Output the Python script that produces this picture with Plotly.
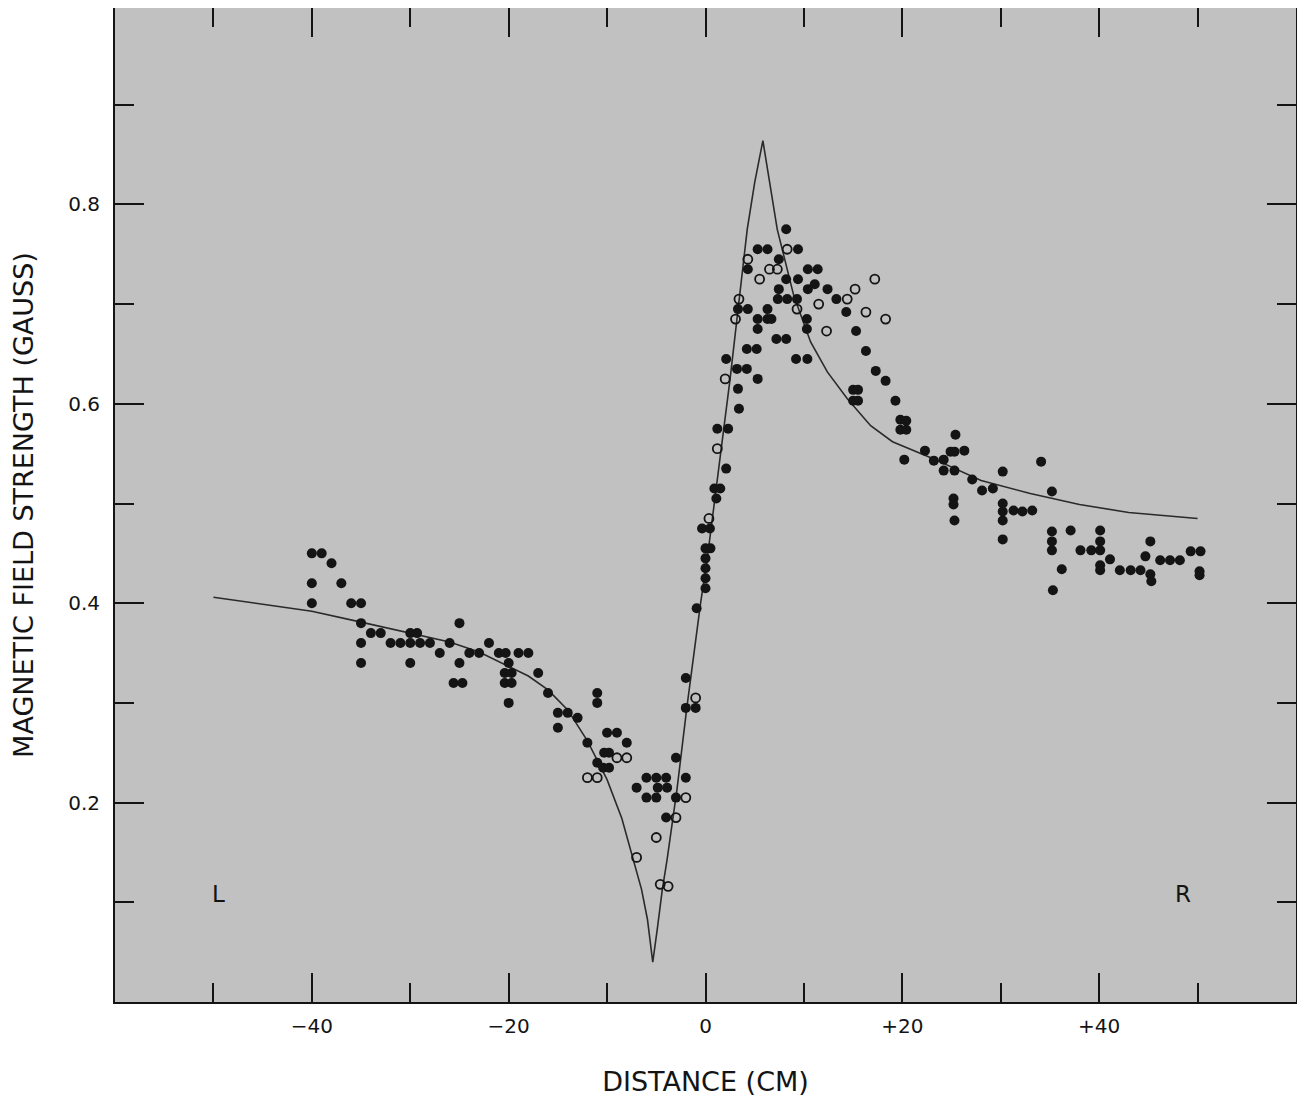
import plotly.graph_objects as go

# ---- data ----
filled_x = [-40, -39, -38, -40, -37, -40, -36, -35, -35, -35, -35, -34, -33, -32, -31, -30, -29.3, -30, -29, -30,
            -28, -27, -26, -25, -25, -25.6, -24.7, -24, -23, -22, -21, -20.3, -20, -20.4, -19.7, -20.4, -19.7, -20,
            -19, -18, -17, -16, -15, -15, -14, -13,
            -11, -11, -12, -10, -9, -8, -10.3, -9.8, -11, -10.4, -9.8, -6, -5, -4, -2, -7, -4.85, -3.9, -6, -5, -3,
            -3, -4, -2, -2, -1, -0.9, 0, 0, 0, 0, 0, 0.5, -0.35, 0.45, 1.1, 0.9, 1.5, 2.1, 1.2, 2.3, 3.4, 3.3, 5.3,
            2.1, 3.2, 4.2, 4.2, 5.2,
            8.2, 5.3, 6.3, 9.4, 7.45, 4.3, 10.4, 11.4, 8.2, 9.4, 7.45, 10.4, 11.1, 12.4, 7.35, 8.3, 9.3, 13.3, 3.3,
            4.3, 6.3, 14.3, 5.3, 6.3, 6.7, 10.3, 5.3, 10.3, 15.3, 7.2, 8.2, 16.3, 9.2, 10.35, 17.3, 18.3, 15.0,
            15.5, 15.0, 15.5, 19.3, 19.8, 20.4, 19.8, 20.4,
            22.3, 20.2, 23.2, 24.2, 24.2, 25.3, 25.4, 24.9, 25.3, 26.3, 25.2, 25.2, 25.3, 27.1, 28.1, 29.2, 30.2,
            30.2, 30.2, 30.2, 30.2, 31.3, 32.2, 33.2, 34.1, 35.2, 35.2, 35.2, 35.2, 35.3, 36.2, 37.1, 38.1, 39.2,
            40.1, 40.1, 40.1, 40.1, 40.1, 41.1, 42.1, 43.2, 44.2, 45.2, 44.7, 45.2, 45.3, 46.2, 47.2, 48.2, 49.3,
            50.3, 50.2, 50.2]
filled_y = [0.45, 0.45, 0.44, 0.42, 0.42, 0.40, 0.40, 0.40, 0.38, 0.36, 0.34, 0.37, 0.37, 0.36, 0.36, 0.37, 0.37,
            0.36, 0.36, 0.34, 0.36, 0.35, 0.36, 0.38, 0.34, 0.32, 0.32, 0.35, 0.35, 0.36, 0.35, 0.35, 0.34, 0.33,
            0.33, 0.32, 0.32, 0.30, 0.35, 0.35, 0.33, 0.31, 0.29, 0.275, 0.29, 0.285,
            0.31, 0.30, 0.26, 0.27, 0.27, 0.26, 0.25, 0.25, 0.24, 0.235, 0.235, 0.225, 0.225, 0.225, 0.225, 0.215,
            0.215, 0.215, 0.205, 0.205, 0.205, 0.245, 0.185, 0.325, 0.295, 0.295, 0.395, 0.415, 0.425, 0.435,
            0.445, 0.455, 0.455, 0.475, 0.475, 0.505, 0.515, 0.515, 0.535, 0.575, 0.575, 0.595, 0.615, 0.625,
            0.645, 0.635, 0.635, 0.655, 0.655,
            0.775, 0.755, 0.755, 0.755, 0.745, 0.735, 0.735, 0.735, 0.725, 0.725, 0.715, 0.715, 0.72, 0.715,
            0.705, 0.705, 0.705, 0.705, 0.695, 0.695, 0.695, 0.692, 0.685, 0.685, 0.685, 0.685, 0.675, 0.675,
            0.673, 0.665, 0.665, 0.653, 0.645, 0.645, 0.633, 0.623, 0.614, 0.614, 0.603, 0.603, 0.603, 0.584,
            0.583, 0.574, 0.574,
            0.553, 0.544, 0.543, 0.544, 0.533, 0.533, 0.569, 0.552, 0.552, 0.553, 0.505, 0.499, 0.483, 0.524,
            0.513, 0.515, 0.532, 0.500, 0.492, 0.483, 0.464, 0.493, 0.492, 0.493, 0.542, 0.512, 0.472, 0.462,
            0.453, 0.413, 0.434, 0.473, 0.453, 0.453, 0.473, 0.462, 0.453, 0.438, 0.433, 0.444, 0.433, 0.433,
            0.433, 0.462, 0.447, 0.429, 0.422, 0.443, 0.443, 0.443, 0.452, 0.452, 0.432, 0.428]

open_x = [-12, -11, -9, -8, -7, -5, -4.6, -3.8, -3, -2, -1, 0.35, 1.2, 2.0, 4.3, 6.5, 7.3, 5.5, 17.2, 15.2,
          3.4, 14.4, 11.5, 9.3, 16.3, 3.05, 18.3, 12.3, 8.3]
open_y = [0.225, 0.225, 0.245, 0.245, 0.145, 0.165, 0.118, 0.116, 0.185, 0.205, 0.305, 0.485, 0.555, 0.625,
          0.745, 0.735, 0.735, 0.725, 0.725, 0.715, 0.705, 0.705, 0.70, 0.695, 0.692, 0.685, 0.685, 0.673, 0.755]

curve_x = [-50, -45, -40, -35, -30, -26, -23, -20, -18, -16, -14, -12, -10, -8.5, -7.3, -6.5, -5.9, -5.36,
           -4.9, -4.4, -3.9, -2.9, -1.9, -0.5, 0.17, 1.86, 2.5, 4.24, 5.0, 5.83,
           6.4, 7.29, 8.98, 10.68, 12.38, 14.41, 16.78, 19.0, 22.9, 28, 33, 38, 43, 50]
curve_y = [0.406, 0.399, 0.392, 0.381, 0.370, 0.361, 0.351, 0.337, 0.327, 0.313, 0.293, 0.262, 0.223, 0.184,
           0.143, 0.113, 0.083, 0.040,
           0.073, 0.112, 0.143, 0.213, 0.295, 0.400, 0.444, 0.575, 0.625, 0.775, 0.822, 0.864,
           0.830, 0.775, 0.708, 0.662, 0.632, 0.605, 0.578, 0.562, 0.546, 0.523, 0.510, 0.499, 0.491, 0.485]

x_major = [-40, -20, 0, 20, 40]
x_major_text = ["\u221240", "\u221220", "0", "+20", "+40"]
x_minor = [-50, -30, -10, 10, 30, 50]
y_major = [0.2, 0.4, 0.6, 0.8]
y_major_text = ["0.2", "0.4", "0.6", "0.8"]
y_minor = [0.1, 0.3, 0.5, 0.7, 0.9]

FONT = "DejaVu Sans, Liberation Sans, sans-serif"
INK = "#141414"

fig = go.Figure()
fig.add_trace(go.Scatter(x=curve_x, y=curve_y, mode="lines",
                         line=dict(color="#2a2a2a", width=1.6), hoverinfo="skip", showlegend=False))
fig.add_trace(go.Scatter(x=filled_x, y=filled_y, mode="markers",
                         marker=dict(symbol="circle", size=10, color=INK, line=dict(width=0)),
                         showlegend=False))
fig.add_trace(go.Scatter(x=open_x, y=open_y, mode="markers",
                         marker=dict(symbol="circle-open", size=9, color=INK, line=dict(width=1.8)),
                         showlegend=False))

axis_common = dict(showgrid=False, zeroline=False, showline=True, linecolor=INK, linewidth=2,
                   ticks="inside", tickcolor=INK, tickwidth=2, ticklen=29, mirror="ticks",
                   automargin=False, tickfont=dict(family=FONT, size=20, color=INK))

fig.update_xaxes(range=[-60, 60], tickvals=x_major, ticktext=x_major_text,
                 minor=dict(tickvals=x_minor, ticks="inside", ticklen=19, tickcolor=INK, tickwidth=2),
                 title=dict(text="DISTANCE (CM)", font=dict(family=FONT, size=27, color=INK), standoff=35),
                 ticklabelstandoff=5, **axis_common)
fig.update_yaxes(range=[0, 0.997], tickvals=y_major, ticktext=y_major_text,
                 minor=dict(tickvals=y_minor, ticks="inside", ticklen=19, tickcolor=INK, tickwidth=2),
                 title=dict(text="MAGNETIC FIELD STRENGTH (GAUSS)", font=dict(family=FONT, size=27, color=INK),
                            standoff=30),
                 ticklabelstandoff=9, **axis_common)

fig.add_annotation(x=-49.5, y=0.108, text="L", showarrow=False, font=dict(family=FONT, size=23, color=INK))
fig.add_annotation(x=48.5, y=0.108, text="R", showarrow=False, font=dict(family=FONT, size=23, color=INK))

# the page body adds an 8 px offset, so margins are set to land the plot frame where the reference has it
fig.update_layout(width=1305, height=1098, margin=dict(l=107, r=17, t=0, b=104),
                  paper_bgcolor="white", plot_bgcolor="#c1c1c1", showlegend=False)

fig.write_html("out.html")
